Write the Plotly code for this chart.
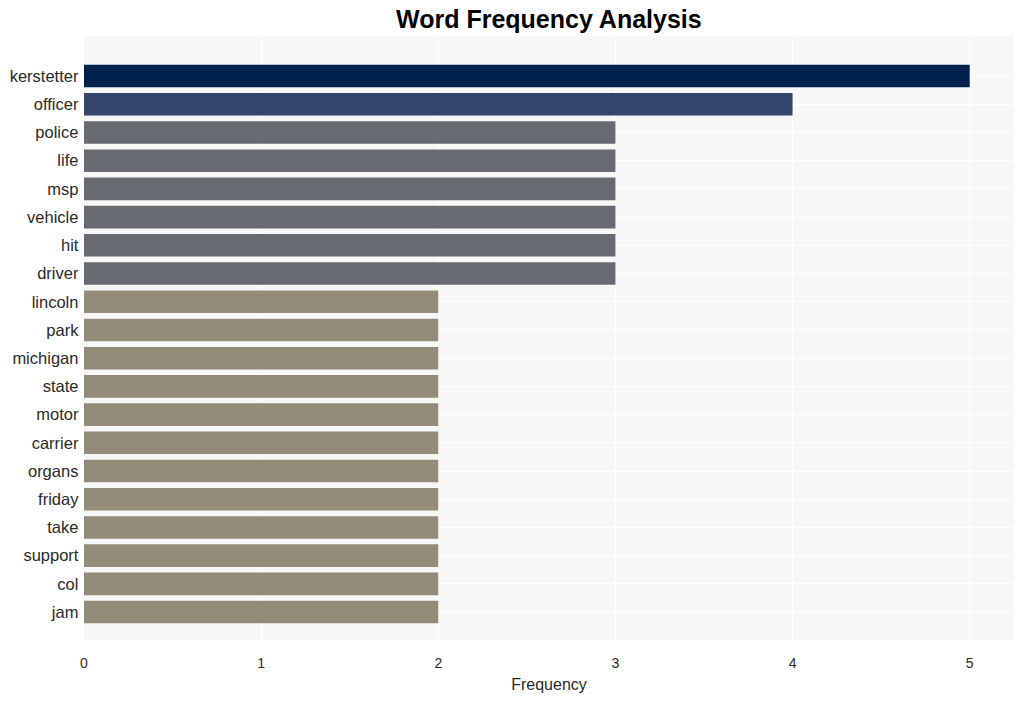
import plotly.graph_objects as go

words = ["kerstetter", "officer", "police", "life", "msp", "vehicle", "hit", "driver",
         "lincoln", "park", "michigan", "state", "motor", "carrier", "organs", "friday",
         "take", "support", "col", "jam"]
freqs = [5, 4, 3, 3, 3, 3, 3, 3, 2, 2, 2, 2, 2, 2, 2, 2, 2, 2, 2, 2]
color_map = {5: "#00214e", 4: "#35466d", 3: "#686a72", 2: "#948c78"}
colors = [color_map[f] for f in freqs]

fig = go.Figure(go.Bar(
    x=freqs, y=words, orientation="h",
    marker=dict(color=colors, line=dict(width=0)),
))
fig.update_layout(
    width=1024, height=701,
    margin=dict(l=84, r=10, t=36, b=61),
    paper_bgcolor="white", plot_bgcolor="#f7f7f7",
    font=dict(family="Liberation Sans, Arial, sans-serif", color="#2a2a2a"),
    title=dict(text="<b>Word Frequency Analysis</b>", x=0.536, xanchor="center",
               y=0.972, yanchor="middle", font=dict(size=25, color="black")),
    bargap=0.2,
    showlegend=False,
)
fig.update_xaxes(title=dict(text="Frequency", font=dict(size=16), standoff=9),
                 tickfont=dict(size=14), ticks="outside", ticklen=10,
                 tickcolor="rgba(0,0,0,0)",
                 gridcolor="white", zeroline=False, range=[0, 5.25], dtick=1)
fig.update_yaxes(range=[19.99, -1.42], tickfont=dict(size=16.5), gridcolor="white",
                 ticksuffix=" ")
fig.write_html("out.html")
